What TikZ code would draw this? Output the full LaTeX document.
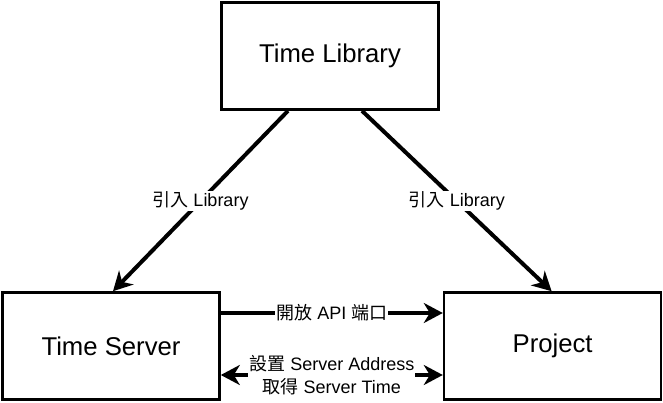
\documentclass[tikz,border=0pt]{standalone}
\usepackage{fontspec}
\setmainfont{Liberation Sans}
\newfontfamily\cjk{Noto Sans CJK TC}
\usetikzlibrary{arrows.meta,positioning}

\begin{document}
\begin{tikzpicture}[x=1pt, y=-1pt,
		>={Stealth[length=19pt, width=20pt, inset=6pt]},
		box/.style={draw, line width=2.6pt, minimum width=217pt, minimum height=107pt, font=\fontsize{25.7}{30}\selectfont},
		link/.style={line width=4pt, ->},
		lbl/.style={fill=white, inner sep=1pt, align=center, font=\fontsize{18}{23}\selectfont}
	]
		\useasboundingbox (0,0) rectangle (663,403);

		\node[box] (lib) at (330,56) {Time Library};
		\node[box] (srv) at (111,346) {Time Server};
		\node[box, right=222pt of srv] (proj) {Project};

		\draw[link] ([xshift=-42pt]lib.south) -- node[lbl] {{\cjk 引入} Library} ([xshift=2pt]srv.north);
		\draw[link] ([xshift=32pt]lib.south) -- node[lbl] {{\cjk 引入} Library} ([xshift=-1pt]proj.north);

		\draw[link] ([yshift=33pt]srv.east) -- node[lbl] {{\cjk 開放} API {\cjk 端口}} ([yshift=33pt]proj.west);
		\draw[link, <->] ([yshift=-29pt]srv.east) -- node[lbl] {{\cjk 設置} Server Address\\{\cjk 取得} Server Time} ([yshift=-29pt]proj.west);
	\end{tikzpicture}
\end{document}
